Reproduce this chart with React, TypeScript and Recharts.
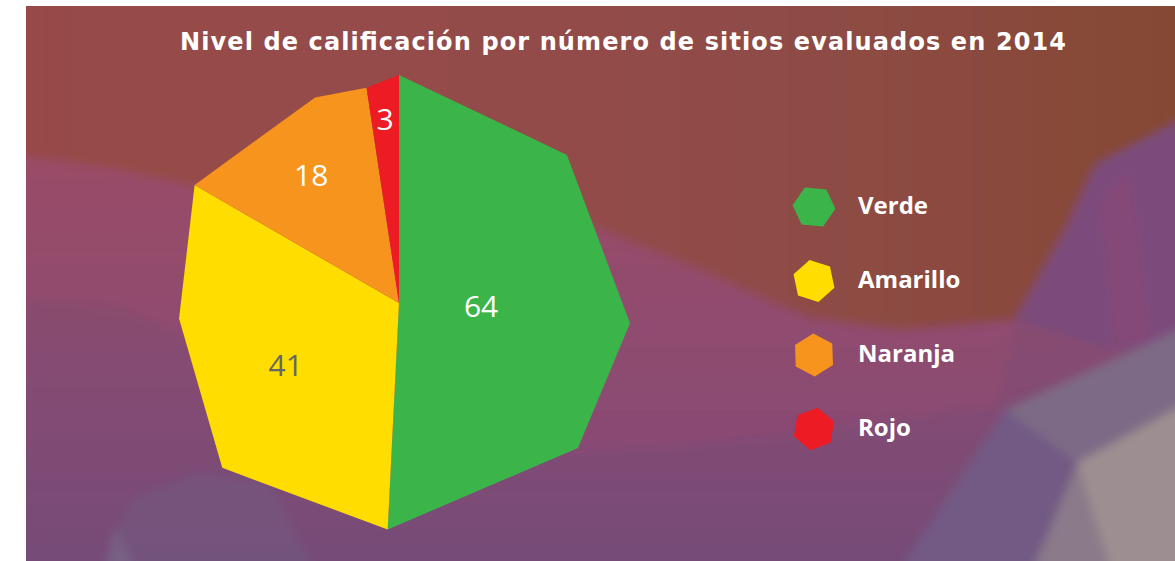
import React from 'react';
import { PieChart, Pie, Cell, Legend } from 'recharts';

const categories = ['Verde', 'Amarillo', 'Naranja', 'Rojo'];
const values = [64, 41, 18, 3];
const sliceColors = ['#3bb54a', '#ffdd00', '#f7941e', '#ed1c24'];
const labelColors = ['#ffffff', '#666666', '#ffffff', '#ffffff'];
const chartTitle = 'Nivel de calificación por número de sitios evaluados en 2014';

const data = categories.map((name, i) => ({ name, value: values[i] }));

const W = 1175;
const H = 561;
const CX = 399;
const CY = 303;
const R = 228;

// faceted outline of the pie: [degrees clockwise from 12 o'clock, radius factor]
const OUTLINE: [number, number][] = [
  [0, 1.0], [48.6, 0.982], [95, 1.017], [129, 1.01], [182.86, 0.995],
  [227, 1.06], [266, 0.967], [300, 1.035], [337.8, 0.974], [351.43, 0.955],
];
const LABEL_RADII = [0.36, 0.566, 0.684, 0.81];
const ICON_ROT = [5, 18, 28, 40];

const pt = (theta: number, r: number): [number, number] => {
  const a = (theta * Math.PI) / 180;
  return [Math.sin(a) * r, -Math.cos(a) * r];
};

function edgePoint(theta: number, r: number): [number, number] {
  let t = ((theta % 360) + 360) % 360;
  if (theta >= 360 - 1e-6) t = 360;
  const n = OUTLINE.length;
  for (let i = 0; i < n; i++) {
    const [a0, f0] = OUTLINE[i];
    const [a1r, f1] = OUTLINE[(i + 1) % n];
    const a1 = i + 1 === n ? a1r + 360 : a1r;
    if (t >= a0 - 1e-6 && t <= a1 + 1e-6) {
      const P0 = pt(a0, f0 * r);
      const P1 = pt(a1, f1 * r);
      const d = pt(t, 1);
      const E = [P1[0] - P0[0], P1[1] - P0[1]];
      const cross = (u: number[], v: number[]) => u[0] * v[1] - u[1] * v[0];
      const den = cross(d, E);
      const s = Math.abs(den) < 1e-9 ? 0 : -cross(d, P0) / den;
      return [P0[0] + s * E[0], P0[1] + s * E[1]];
    }
  }
  return pt(t, r);
}

function FacetSector(props: any) {
  const { cx, cy, outerRadius, startAngle, endAngle, fill } = props;
  const t0 = 90 - startAngle;
  const t1 = 90 - endAngle;
  const lo = Math.min(t0, t1);
  const hi = Math.max(t0, t1);
  const pts: [number, number][] = [];
  pts.push(edgePoint(lo, outerRadius));
  const inner: [number, number][] = [];
  [0, 360].forEach((k) => {
    OUTLINE.forEach(([a, f]) => {
      const aa = a + k;
      if (aa > lo + 0.3 && aa < hi - 0.3) inner.push([aa, f]);
    });
  });
  inner.sort((p, q) => p[0] - q[0]);
  inner.forEach(([a, f]) => pts.push(pt(a, f * outerRadius)));
  pts.push(edgePoint(hi, outerRadius));
  const d =
    `M${cx},${cy} ` +
    pts.map((p) => `L${(cx + p[0]).toFixed(2)},${(cy + p[1]).toFixed(2)}`).join(' ') +
    ' Z';
  return <path d={d} fill={fill} stroke="none" />;
}

const RADIAN = Math.PI / 180;
const renderLabel = (p: any) => {
  const { cx, cy, midAngle, outerRadius, index, value } = p;
  const r = outerRadius * LABEL_RADII[index];
  const x = cx + r * Math.cos(-midAngle * RADIAN);
  const y = cy + r * Math.sin(-midAngle * RADIAN);
  return (
    <text
      x={x}
      y={y}
      fill={labelColors[index]}
      textAnchor="middle"
      dominantBaseline="central"
      fontSize={30}
      fontFamily="'Open Sans', sans-serif"
    >
      {value}
    </text>
  );
};

const hexPoints = (cx: number, cy: number, r: number, rot: number) =>
  Array.from({ length: 6 }, (_, k) => {
    const a = ((k * 60 + 180 + rot) * Math.PI) / 180;
    return `${(cx + r * Math.cos(a)).toFixed(2)},${(cy + r * Math.sin(a)).toFixed(2)}`;
  }).join(' ');

const renderLegend = (props: any) => {
  const payload = (props && props.payload) || [];
  const items = categories.map((name, i) => {
    const entry = payload.find((e: any) => e.value === name);
    return { name, color: (entry && entry.color) || sliceColors[i] };
  });
  return (
    <svg width={260} height={300}>
      {items.map((it, i) => {
        const cy = 27 + i * 74;
        return (
          <g key={it.name}>
            <polygon points={hexPoints(34, cy, 21.5, ICON_ROT[i])} fill={it.color} />
            <text
              x={78}
              y={cy + 1}
              fill="#ffffff"
              fontSize={24}
              fontWeight={700}
              fontFamily="'Open Sans', sans-serif"
              dominantBaseline="middle"
            >
              {it.name}
            </text>
          </g>
        );
      })}
    </svg>
  );
};

function Background() {
  return (
    <svg width={W} height={H} style={{ position: 'absolute', left: 0, top: 0 }}>
      <defs>
        <linearGradient id="baseG" x1="0" y1="0" x2="0" y2="1">
          <stop offset="0" stopColor="#954a45" />
          <stop offset="0.3" stopColor="#924b5c" />
          <stop offset="0.6" stopColor="#864b72" />
          <stop offset="1" stopColor="#734c78" />
        </linearGradient>
        <linearGradient id="brownG" x1="0" y1="0" x2="1" y2="0">
          <stop offset="0" stopColor="#984a47" />
          <stop offset="0.55" stopColor="#914c4a" />
          <stop offset="0.8" stopColor="#8b4a40" />
          <stop offset="1" stopColor="#834731" />
        </linearGradient>
        <linearGradient id="pinkG" x1="0" y1="0" x2="0" y2="1">
          <stop offset="0" stopColor="#9a4c67" />
          <stop offset="1" stopColor="#884a74" />
        </linearGradient>
        <clipPath id="bgClip">
          <rect x={26} y={6} width={W - 26} height={H - 6} />
        </clipPath>
        <filter id="soft" x="-5%" y="-5%" width="110%" height="110%">
          <feGaussianBlur stdDeviation="5" />
        </filter>
      </defs>
      <g clipPath="url(#bgClip)">
        <g filter="url(#soft)">
          <rect x={0} y={-20} width={W + 40} height={H + 60} fill="url(#baseG)" />
          <polygon
            points="-20,150 120,170 200,188 400,200 590,225 700,270 810,318 900,330 1015,320 1000,405 860,425 700,445 520,455 420,455 300,405 200,345 120,305 -20,295"
            fill="url(#pinkG)"
          />
          <polygon
            points="-20,-20 1200,-20 1200,140 1095,165 1065,230 1015,320 900,330 810,318 700,270 590,225 400,200 200,188 120,170 -20,150"
            fill="url(#brownG)"
          />
          <polygon points="1095,165 1200,110 1200,340 1110,350 1015,320 1065,230" fill="#7b4b7b" />
          <polygon points="1100,200 1130,170 1150,340 1115,345" fill="#8c4a74" opacity={0.6} />
          <polygon points="1005,410 1200,320 1200,395 1077,463" fill="#7d6a86" />
          <polygon points="1077,463 1200,395 1200,600 1120,600" fill="#9d8f91" />
          <polygon points="1077,463 1120,600 1020,600" fill="#8a7a8a" />
          <polygon points="880,600 1005,410 1077,463 1020,600" fill="#725a84" />
          <polygon points="90,600 130,500 200,472 270,482 330,600" fill="#6f5a80" opacity={0.45} />
          <polygon points="100,600 115,525 150,600" fill="#7c6a8a" opacity={0.6} />
        </g>
      </g>
      <text
        x={623}
        y={50}
        fill="#ffffff"
        fontSize={24}
        fontWeight={700}
        fontFamily="'DejaVu Sans', sans-serif"
        textAnchor="middle"
        textLength={886}
        lengthAdjust="spacing"
      >
        {chartTitle}
      </text>
    </svg>
  );
}

export default function App() {
  return (
    <div style={{ position: 'absolute', left: 0, top: 0, width: W, height: H }}>
      <Background />
      <div style={{ position: 'absolute', left: 0, top: 0 }}>
        <PieChart width={W} height={H} margin={{ top: 0, right: 0, bottom: 0, left: 0 }}>
          <Pie
            data={data}
            dataKey="value"
            nameKey="name"
            cx={CX}
            cy={CY}
            outerRadius={R}
            startAngle={90}
            endAngle={-270}
            isAnimationActive={false}
            label={renderLabel}
            labelLine={false}
            stroke="none"
            shape={FacetSector}
            activeShape={FacetSector}
            inactiveShape={FacetSector}
          >
            {data.map((d, i) => (
              <Cell key={d.name} fill={sliceColors[i]} />
            ))}
          </Pie>
          <Legend
            content={renderLegend}
            layout="vertical"
            align="right"
            verticalAlign="top"
            wrapperStyle={{ position: 'absolute', left: 780, top: 180, width: 260, height: 300 }}
          />
        </PieChart>
      </div>
    </div>
  );
}
